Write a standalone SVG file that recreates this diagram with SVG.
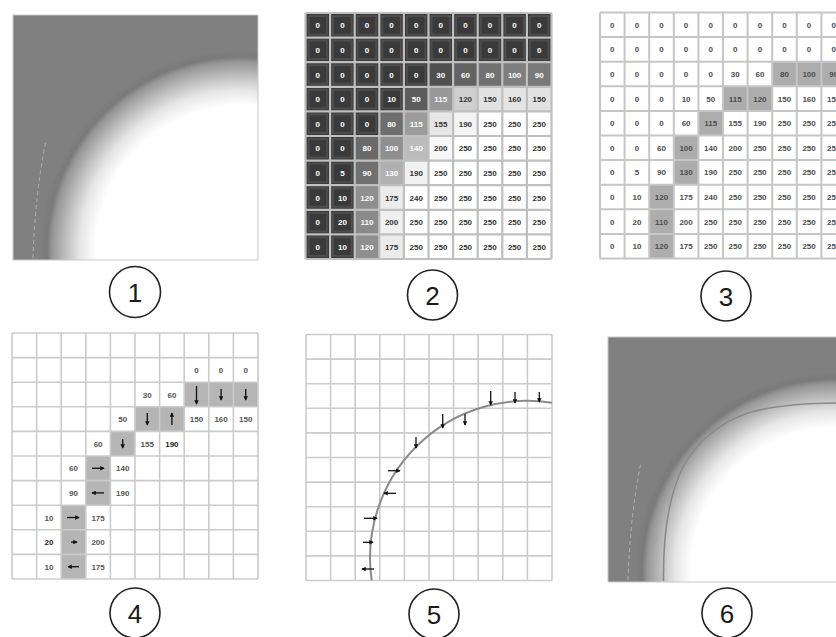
<svg xmlns="http://www.w3.org/2000/svg" xmlns:xlink="http://www.w3.org/1999/xlink" width="836" height="637" viewBox="0 0 836 637">
<style>
.lbl circle{fill:#fff;stroke:#222;stroke-width:1.6}
.lbl text{font-family:"Liberation Sans",Arial,sans-serif;font-size:26px;fill:#1a1a1a;text-anchor:middle}
.num{font-family:"Liberation Sans",Arial,sans-serif;font-weight:bold;font-size:8px;text-anchor:middle}
.w{fill:#fff}
.d{fill:#333}
.g3{fill:#4d4d4d}
.g4{fill:#555}
.arr{stroke:#111;stroke-width:1.3;fill:none;marker-end:url(#ah)}
</style>
<defs>
<radialGradient id="glow" gradientUnits="userSpaceOnUse" cx="240" cy="250" r="200">
<stop offset="0" stop-color="#fff"/>
<stop offset="0.72" stop-color="#fff"/>
<stop offset="0.8" stop-color="#e6e6e6"/>
<stop offset="0.88" stop-color="#b9b9b9"/>
<stop offset="0.94" stop-color="#969696"/>
<stop offset="0.965" stop-color="#7a7a7a"/>
<stop offset="0.985" stop-color="#7d7d7d"/>
<stop offset="1" stop-color="#808080"/>
</radialGradient>
<pattern id="dk" width="24.6" height="24.6" patternUnits="userSpaceOnUse">
<rect width="24.6" height="24.6" fill="#3a3a3a"/>
<rect x="3" y="3" width="18.6" height="18.6" fill="none" stroke="#585858" stroke-width="1.2"/>
</pattern>
<rect id="cell" width="24.6" height="24.6"/>
<path id="grid" d="M0 0V246M24.6 0V246M49.2 0V246M73.8 0V246M98.4 0V246M123 0V246M147.6 0V246M172.2 0V246M196.8 0V246M221.4 0V246M246 0V246M0 0H246M0 24.6H246M0 49.2H246M0 73.8H246M0 98.4H246M0 123H246M0 147.6H246M0 172.2H246M0 196.8H246M0 221.4H246M0 246H246"/>
<path id="hl" d="M172.2 49.2H246V73.8H172.2ZM123 73.8H172.2V98.4H123ZM98.4 98.4H123V123H98.4ZM73.8 123H98.4V172.2H73.8ZM49.2 172.2H73.8V246H49.2Z"/>
<marker id="ah" viewBox="0 0 6 6" refX="5" refY="3" markerWidth="4.5" markerHeight="4.5" orient="auto" markerUnits="userSpaceOnUse">
<path d="M0,0L6,3L0,6z" fill="#111"/>
</marker>
</defs>
<rect width="836" height="637" fill="#fff"/>

<!-- Panel 1 -->
<g id="panel1">
<rect x="13" y="15" width="245" height="245" fill="url(#glow)" stroke="#c8c8c8" stroke-width="1"/>
<path d="M33,258 Q35,195 46,140" fill="none" stroke="#c4c4c4" stroke-opacity="0.7" stroke-width="1" stroke-dasharray="4 3"/>
</g>

<!-- Panel 2 -->
<g id="panel2" transform="translate(305.5,13)">
<rect width="246" height="246" fill="url(#dk)"/>
<use xlink:href="#cell" x="123" y="49.2" fill="#505050"/>
<use xlink:href="#cell" x="147.6" y="49.2" fill="#626262"/>
<use xlink:href="#cell" x="172.2" y="49.2" fill="#717171"/>
<use xlink:href="#cell" x="196.8" y="49.2" fill="#7e7e7e"/>
<use xlink:href="#cell" x="221.4" y="49.2" fill="#797979"/>
<use xlink:href="#cell" x="98.4" y="73.8" fill="#5c5c5c"/>
<use xlink:href="#cell" x="123" y="73.8" fill="#989898"/>
<use xlink:href="#cell" x="147.6" y="73.8" fill="#cfcfcf"/>
<use xlink:href="#cell" x="172.2" y="73.8" fill="#e2e2e2"/>
<use xlink:href="#cell" x="196.8" y="73.8" fill="#e4e4e4"/>
<use xlink:href="#cell" x="221.4" y="73.8" fill="#e2e2e2"/>
<use xlink:href="#cell" x="73.8" y="98.4" fill="#6e6e6e"/>
<use xlink:href="#cell" x="98.4" y="98.4" fill="#9c9c9c"/>
<use xlink:href="#cell" x="123" y="98.4" fill="#e6e6e6"/>
<use xlink:href="#cell" x="147.6" y="98.4" fill="#f4f4f4"/>
<use xlink:href="#cell" x="49.2" y="123" fill="#6a6a6a"/>
<use xlink:href="#cell" x="73.8" y="123" fill="#8f8f8f"/>
<use xlink:href="#cell" x="98.4" y="123" fill="#bcbcbc"/>
<use xlink:href="#cell" x="123" y="123" fill="#f7f7f7"/>
<use xlink:href="#cell" x="49.2" y="147.6" fill="#707070"/>
<use xlink:href="#cell" x="73.8" y="147.6" fill="#b0b0b0"/>
<use xlink:href="#cell" x="98.4" y="147.6" fill="#f2f2f2"/>
<use xlink:href="#cell" x="49.2" y="172.2" fill="#8f8f8f"/>
<use xlink:href="#cell" x="73.8" y="172.2" fill="#ececec"/>
<use xlink:href="#cell" x="49.2" y="196.8" fill="#8a8a8a"/>
<use xlink:href="#cell" x="73.8" y="196.8" fill="#f0f0f0"/>
<use xlink:href="#cell" x="49.2" y="221.4" fill="#8f8f8f"/>
<use xlink:href="#cell" x="73.8" y="221.4" fill="#ebebeb"/>
<polygon points="172.2,98.4 246,98.4 246,246 98.4,246 98.4,172.2 123,172.2 123,147.6 147.6,147.6 147.6,123 172.2,123" fill="#fff"/>
<use xlink:href="#grid" fill="none" stroke="#bfbfbf" stroke-width="2.2"/>
<g class="num">
<g class="w" transform="translate(0,15.3)"><text x="12.3">0</text><text x="36.9">0</text><text x="61.5">0</text><text x="86.1">0</text><text x="110.7">0</text><text x="135.3">0</text><text x="159.9">0</text><text x="184.5">0</text><text x="209.1">0</text><text x="233.7">0</text></g>
<g class="w" transform="translate(0,39.9)"><text x="12.3">0</text><text x="36.9">0</text><text x="61.5">0</text><text x="86.1">0</text><text x="110.7">0</text><text x="135.3">0</text><text x="159.9">0</text><text x="184.5">0</text><text x="209.1">0</text><text x="233.7">0</text></g>
<g class="w" transform="translate(0,64.5)"><text x="12.3">0</text><text x="36.9">0</text><text x="61.5">0</text><text x="86.1">0</text><text x="110.7">0</text><text x="135.3">30</text><text x="159.9">60</text><text x="184.5">80</text><text x="209.1">100</text><text x="233.7">90</text></g>
<g transform="translate(0,89.1)"><text class="w" x="12.3">0</text><text class="w" x="36.9">0</text><text class="w" x="61.5">0</text><text class="w" x="86.1">10</text><text class="w" x="110.7">50</text><text class="w" x="135.3">115</text><text class="d" x="159.9">120</text><text class="d" x="184.5">150</text><text class="d" x="209.1">160</text><text class="d" x="233.7">150</text></g>
<g transform="translate(0,113.7)"><text class="w" x="12.3">0</text><text class="w" x="36.9">0</text><text class="w" x="61.5">0</text><text class="w" x="86.1">80</text><text class="w" x="110.7">115</text><text class="d" x="135.3">155</text><text class="d" x="159.9">190</text><text class="d" x="184.5">250</text><text class="d" x="209.1">250</text><text class="d" x="233.7">250</text></g>
<g transform="translate(0,138.3)"><text class="w" x="12.3">0</text><text class="w" x="36.9">0</text><text class="w" x="61.5">80</text><text class="w" x="86.1">100</text><text class="w" x="110.7">140</text><text class="d" x="135.3">200</text><text class="d" x="159.9">250</text><text class="d" x="184.5">250</text><text class="d" x="209.1">250</text><text class="d" x="233.7">250</text></g>
<g transform="translate(0,162.9)"><text class="w" x="12.3">0</text><text class="w" x="36.9">5</text><text class="w" x="61.5">90</text><text class="w" x="86.1">130</text><text class="d" x="110.7">190</text><text class="d" x="135.3">250</text><text class="d" x="159.9">250</text><text class="d" x="184.5">250</text><text class="d" x="209.1">250</text><text class="d" x="233.7">250</text></g>
<g transform="translate(0,187.5)"><text class="w" x="12.3">0</text><text class="w" x="36.9">10</text><text class="w" x="61.5">120</text><text class="d" x="86.1">175</text><text class="d" x="110.7">240</text><text class="d" x="135.3">250</text><text class="d" x="159.9">250</text><text class="d" x="184.5">250</text><text class="d" x="209.1">250</text><text class="d" x="233.7">250</text></g>
<g transform="translate(0,212.1)"><text class="w" x="12.3">0</text><text class="w" x="36.9">20</text><text class="w" x="61.5">110</text><text class="d" x="86.1">200</text><text class="d" x="110.7">250</text><text class="d" x="135.3">250</text><text class="d" x="159.9">250</text><text class="d" x="184.5">250</text><text class="d" x="209.1">250</text><text class="d" x="233.7">250</text></g>
<g transform="translate(0,236.7)"><text class="w" x="12.3">0</text><text class="w" x="36.9">10</text><text class="w" x="61.5">120</text><text class="d" x="86.1">175</text><text class="d" x="110.7">250</text><text class="d" x="135.3">250</text><text class="d" x="159.9">250</text><text class="d" x="184.5">250</text><text class="d" x="209.1">250</text><text class="d" x="233.7">250</text></g>
</g>
</g>

<!-- Panel 3 -->
<g id="panel3" transform="translate(600,12.5)">
<rect width="246" height="246" fill="#fff"/>
<use xlink:href="#hl" fill="#adadad"/>
<use xlink:href="#grid" fill="none" stroke="#c6c6c6" stroke-width="2"/>
<g class="num g3">
<g transform="translate(0,15.3)"><text x="12.3">0</text><text x="36.9">0</text><text x="61.5">0</text><text x="86.1">0</text><text x="110.7">0</text><text x="135.3">0</text><text x="159.9">0</text><text x="184.5">0</text><text x="209.1">0</text><text x="233.7">0</text></g>
<g transform="translate(0,39.9)"><text x="12.3">0</text><text x="36.9">0</text><text x="61.5">0</text><text x="86.1">0</text><text x="110.7">0</text><text x="135.3">0</text><text x="159.9">0</text><text x="184.5">0</text><text x="209.1">0</text><text x="233.7">0</text></g>
<g transform="translate(0,64.5)"><text x="12.3">0</text><text x="36.9">0</text><text x="61.5">0</text><text x="86.1">0</text><text x="110.7">0</text><text x="135.3">30</text><text x="159.9">60</text><text x="184.5">80</text><text x="209.1">100</text><text x="233.7">90</text></g>
<g transform="translate(0,89.1)"><text x="12.3">0</text><text x="36.9">0</text><text x="61.5">0</text><text x="86.1">10</text><text x="110.7">50</text><text x="135.3">115</text><text x="159.9">120</text><text x="184.5">150</text><text x="209.1">160</text><text x="233.7">150</text></g>
<g transform="translate(0,113.7)"><text x="12.3">0</text><text x="36.9">0</text><text x="61.5">0</text><text x="86.1">60</text><text x="110.7">115</text><text x="135.3">155</text><text x="159.9">190</text><text x="184.5">250</text><text x="209.1">250</text><text x="233.7">250</text></g>
<g transform="translate(0,138.3)"><text x="12.3">0</text><text x="36.9">0</text><text x="61.5">60</text><text x="86.1">100</text><text x="110.7">140</text><text x="135.3">200</text><text x="159.9">250</text><text x="184.5">250</text><text x="209.1">250</text><text x="233.7">250</text></g>
<g transform="translate(0,162.9)"><text x="12.3">0</text><text x="36.9">5</text><text x="61.5">90</text><text x="86.1">130</text><text x="110.7">190</text><text x="135.3">250</text><text x="159.9">250</text><text x="184.5">250</text><text x="209.1">250</text><text x="233.7">250</text></g>
<g transform="translate(0,187.5)"><text x="12.3">0</text><text x="36.9">10</text><text x="61.5">120</text><text x="86.1">175</text><text x="110.7">240</text><text x="135.3">250</text><text x="159.9">250</text><text x="184.5">250</text><text x="209.1">250</text><text x="233.7">250</text></g>
<g transform="translate(0,212.1)"><text x="12.3">0</text><text x="36.9">20</text><text x="61.5">110</text><text x="86.1">200</text><text x="110.7">250</text><text x="135.3">250</text><text x="159.9">250</text><text x="184.5">250</text><text x="209.1">250</text><text x="233.7">250</text></g>
<g transform="translate(0,236.7)"><text x="12.3">0</text><text x="36.9">10</text><text x="61.5">120</text><text x="86.1">175</text><text x="110.7">250</text><text x="135.3">250</text><text x="159.9">250</text><text x="184.5">250</text><text x="209.1">250</text><text x="233.7">250</text></g>
</g>
</g>

<!-- Panel 4 -->
<g id="panel4" transform="translate(12,333)">
<rect width="246" height="246" fill="#fff"/>
<use xlink:href="#hl" fill="#b5b5b5"/>
<use xlink:href="#grid" fill="none" stroke="#cbcbcb" stroke-width="1.6"/>
<g class="num g4">
<text x="184.5" y="39.9">0</text><text x="209.1" y="39.9">0</text><text x="233.7" y="39.9">0</text>
<text x="135.3" y="64.5">30</text><text x="159.9" y="64.5">60</text>
<text x="110.7" y="89.1">50</text><text x="184.5" y="89.1">150</text><text x="209.1" y="89.1">160</text><text x="233.7" y="89.1">150</text>
<text x="86.1" y="113.7">60</text><text x="135.3" y="113.7">155</text><text x="159.9" y="113.7" fill="#222">190</text>
<text x="61.5" y="138.3">60</text><text x="110.7" y="138.3">140</text>
<text x="61.5" y="162.9">90</text><text x="110.7" y="162.9">190</text>
<text x="36.9" y="187.5">10</text><text x="86.1" y="187.5">175</text>
<text x="36.9" y="212.1" fill="#222">20</text><text x="86.1" y="212.1">200</text>
<text x="36.9" y="236.7">10</text><text x="86.1" y="236.7">175</text>
</g>
<g id="arrows4">
<path class="arr" d="M184.5,53V71"/>
<path class="arr" d="M209.1,56V67"/>
<path class="arr" d="M233.7,56V67"/>
<path class="arr" d="M135.3,80V92"/>
<path class="arr" d="M159.9,92V80"/>
<path class="arr" d="M110.7,106V115"/>
<path class="arr" d="M80,135.3H92"/>
<path class="arr" d="M92,159.9H80"/>
<path class="arr" d="M55,184.5H67"/>
<path class="arr" d="M59,209.1H65"/>
<path class="arr" d="M67,233.7H56"/>
</g>
</g>

<!-- Panel 5 -->
<g id="panel5">
<g transform="translate(306,334.5)">
<rect width="246" height="246" fill="#fff"/>
<use xlink:href="#grid" fill="none" stroke="#cbcbcb" stroke-width="1.6"/>
</g>
<path d="M371.7,580.5 A157 157 0 0 1 552,402.8" fill="none" stroke="#8a8a8a" stroke-width="2"/>
<g id="arrows5">
<path class="arr" d="M490.7,391V405"/>
<path class="arr" d="M515,392V403"/>
<path class="arr" d="M539.3,392V402"/>
<path class="arr" d="M442.7,414V428"/>
<path class="arr" d="M465,414V425"/>
<path class="arr" d="M416,437V448"/>
<path class="arr" d="M388,470.7H400"/>
<path class="arr" d="M396,493.3H384"/>
<path class="arr" d="M364,518.3H377"/>
<path class="arr" d="M363,542.3H373"/>
<path class="arr" d="M374,569H362"/>
</g>
</g>

<!-- Panel 6 -->
<g id="panel6">
<g transform="translate(595,322)">
<rect x="13" y="15" width="245" height="245" fill="url(#glow)" stroke="#c8c8c8" stroke-width="1"/>
<path d="M33,258 Q35,195 46,140" fill="none" stroke="#c4c4c4" stroke-opacity="0.7" stroke-width="1" stroke-dasharray="4 3"/>
</g>
<path d="M663.5,581 C663,540 668,497 683,467 C698,440 722,422 748,413 C775,405 805,403 840,403" fill="none" stroke="#8a8a8a" stroke-width="1.6"/>
</g>

<!-- Labels -->
<g id="label1" class="lbl"><circle cx="135" cy="292" r="25.5"/><text x="135" y="301.5">1</text></g>
<g id="label2" class="lbl"><circle cx="432.5" cy="295" r="25"/><text x="432.5" y="304.5">2</text></g>
<g id="label3" class="lbl"><circle cx="726" cy="296" r="25"/><text x="726" y="305.5">3</text></g>
<g id="label4" class="lbl"><circle cx="135" cy="613" r="25"/><text x="135" y="622.5">4</text></g>
<g id="label5" class="lbl"><circle cx="434" cy="614" r="25"/><text x="434" y="623.5">5</text></g>
<g id="label6" class="lbl"><circle cx="727" cy="613" r="25"/><text x="727" y="622.5">6</text></g>
</svg>
